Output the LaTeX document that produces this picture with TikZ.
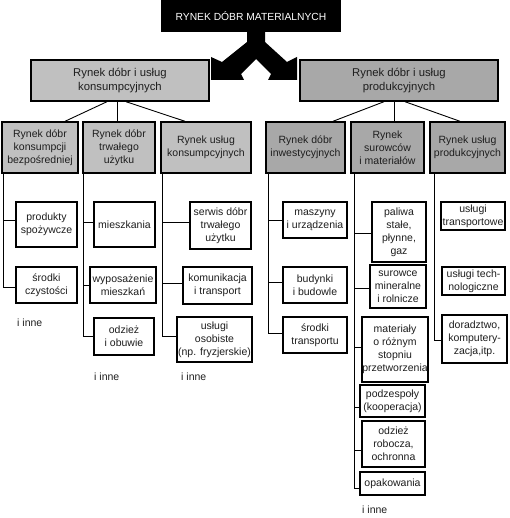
\documentclass[tikz,border=0pt]{standalone}
\usepackage{fontspec}
\setmainfont{Liberation Sans}
\newcommand\myfs{\fontsize{10.5}{13}\selectfont}
\newcommand\mylevfs{\fontsize{11.3}{14}\selectfont}
\newcommand\mytitlefs{\fontsize{10.3}{12}\selectfont}
\definecolor{lgr}{RGB}{192,192,192}
\definecolor{dgr}{RGB}{168,168,168}
\definecolor{txt}{RGB}{30,30,30}
\begin{document}
\begin{tikzpicture}[x=1pt,y=-1pt,
  bx/.style={draw=black,line width=1.4pt,inner sep=0pt,align=center,text=txt,font=\myfs,fill=white},
  lev1/.style={bx,font=\mylevfs},
  conn/.style={draw=black,line width=0.9pt},
  inne/.style={anchor=west,inner sep=0pt,text=txt,font=\myfs}]
\useasboundingbox (0,0) rectangle (509,518);
% title
\node[fill=black,text=white,font=\mytitlefs,minimum width=180pt,minimum height=32pt,inner sep=0pt] (top) at (251,16) {RYNEK DÓBR MATERIALNYCH};
% fork arrow
\fill[black] (247,31) -- (265,31) -- (265,42) -- (287,62) -- (297,57) -- (297,80) -- (268,80) -- (271,74) -- (256,59) -- (241,74) -- (244,80) -- (211,80) -- (211,57) -- (222,62) -- (247,42) -- cycle;
% level 1
\node[lev1,fill=lgr,minimum width=178pt,minimum height=41pt] (L1) at (120,80.5) {Rynek dóbr i usług\\konsumpcyjnych};
\node[lev1,fill=dgr,minimum width=198pt,minimum height=41pt] (R1) at (399,80.5) {Rynek dóbr i usług\\produkcyjnych};
% level 2
\node[bx,fill=lgr,minimum width=76pt,minimum height=51pt] (A) at (40,147.5) {Rynek dóbr\\konsumpcji\\bezpośredniej};
\node[bx,fill=lgr,minimum width=72pt,minimum height=51pt] (B) at (119,147.5) {Rynek dóbr\\trwałego\\użytku};
\node[bx,fill=lgr,minimum width=90pt,minimum height=51pt] (C) at (206,147.5) {Rynek usług\\konsumpcyjnych};
\node[bx,fill=dgr,minimum width=79pt,minimum height=51pt] (D) at (305.5,147.5) {Rynek dóbr\\inwestycyjnych};
\node[bx,fill=dgr,minimum width=73pt,minimum height=51pt] (E) at (387.5,147.5) {Rynek\\surowców\\i materiałów};
\node[bx,fill=dgr,minimum width=75pt,minimum height=51pt] (F) at (467.5,147.5) {Rynek usług\\produkcyjnych};
% level1 -> level2
\draw[conn] ([xshift=-13pt]L1.south) -- ([xshift=25pt]A.north);
\draw[conn] ([xshift=-3pt]L1.south) -- ([xshift=-2pt]B.north);
\draw[conn] ([xshift=6pt]L1.south) -- ([xshift=-21pt]C.north);
\draw[conn] ([xshift=-15pt]R1.south) -- ([xshift=27.5pt]D.north);
\draw[conn] ([xshift=-5pt]R1.south) -- ([xshift=6.5pt]E.north);
\draw[conn] ([xshift=6pt]R1.south) -- ([xshift=-7.5pt]F.north);
% level 3 boxes
\node[bx,minimum width=61pt,minimum height=45pt] (a1) at (46.5,224.5) {produkty\\spożywcze};
\node[bx,minimum width=61pt,minimum height=36pt] (a2) at (46.5,285) {środki\\czystości};
\node[bx,minimum width=61pt,minimum height=45pt] (b1) at (124.5,224.5) {mieszkania};
\node[bx,minimum width=66pt,minimum height=36pt] (b2) at (123,285) {wyposażenie\\mieszkań};
\node[bx,minimum width=60pt,minimum height=37pt] (b3) at (124,336.5) {odzież\\i obuwie};
\node[bx,minimum width=61pt,minimum height=47pt] (c1) at (220.5,225.5) {serwis dóbr\\trwałego\\użytku};
\node[bx,minimum width=69pt,minimum height=37pt] (c2) at (217.5,285.5) {komunikacja\\i transport};
\node[bx,minimum width=75pt,minimum height=45pt] (c3) at (214.5,339.5) {usługi\\osobiste\\(np. fryzjerskie)};
\node[bx,minimum width=64pt,minimum height=36pt] (d1) at (315,220) {maszyny\\i urządzenia};
\node[bx,minimum width=64pt,minimum height=36pt] (d2) at (315,285) {budynki\\i budowle};
\node[bx,minimum width=64pt,minimum height=36pt] (d3) at (315,335) {środki\\transportu};
\node[bx,minimum width=54pt,minimum height=60pt] (e1) at (399,232) {paliwa\\stałe,\\płynne,\\gaz};
\node[bx,minimum width=56pt,minimum height=43pt] (e2) at (398,286.5) {surowce\\mineralne\\i rolnicze};
\node[bx,minimum width=66pt,minimum height=65pt] (e3) at (395,349.5) {materiały\\o różnym\\stopniu\\przetworzenia};
\node[bx,minimum width=65pt,minimum height=32pt] (e4) at (392.5,401) {podzespoły\\(kooperacja)};
\node[bx,minimum width=63pt,minimum height=46pt] (e5) at (393.5,444) {odzież\\robocza,\\ochronna};
\node[bx,minimum width=65pt,minimum height=23pt] (e6) at (392.5,483.5) {opakowania};
\node[bx,minimum width=64pt,minimum height=28pt] (f1) at (473,216) {usługi\\transportowe};
\node[bx,minimum width=63pt,minimum height=28pt] (f2) at (473.5,281) {usługi tech-\\nologiczne};
\node[bx,minimum width=65pt,minimum height=48pt] (f3) at (474.5,339) {doradztwo,\\komputery-\\zacja,itp.};
% i inne
\node[inne] (ia) at (17,323) {i inne};
\node[inne] (ib) at (94,377) {i inne};
\node[inne] (ic) at (181,377) {i inne};
\node[inne] (ie) at (362,510) {i inne};
% trunks
\coordinate (At) at ([xshift=2pt]A.south west);
\coordinate (Bt) at ([xshift=1pt]B.south west);
\coordinate (Ct) at ([xshift=2pt]C.south west);
\coordinate (Dt) at ([xshift=3pt]D.south west);
\coordinate (Et) at ([xshift=4pt]E.south west);
\coordinate (Ft) at ([xshift=5pt]F.south west);
\draw[conn] (At) |- ([yshift=4.5pt]a1.west);
\draw[conn] (At) |- ([yshift=-2pt]a2.west);
\draw[conn] (Bt) |- ([yshift=2.5pt]b1.west);
\draw[conn] (Bt) |- (b2.west);
\draw[conn] (Bt) |- (b3.west);
\draw[conn] (Ct) |- ([yshift=3.5pt]c1.west);
\draw[conn] (Ct) |- ([yshift=2.5pt]c2.west);
\draw[conn] (Ct) |- ([yshift=3.5pt]c3.west);
\draw[conn] (Dt) |- (d1.west);
\draw[conn] (Dt) |- ([yshift=3pt]d2.west);
\draw[conn] (Dt) |- ([yshift=2pt]d3.west);
\draw[conn] (Et) |- ([yshift=-1pt]e1.west);
\draw[conn] (Et) |- ([yshift=-1.5pt]e2.west);
\draw[conn] (Et) |- ([yshift=2.5pt]e3.west);
\draw[conn] (Et) |- ([yshift=-6pt]e4.west);
\draw[conn] (Et) |- ([yshift=-6pt]e5.west);
\draw[conn] (Et) |- ([yshift=-4.5pt]e6.west);
\draw[conn] (Ft) |- ([yshift=-1pt]f3.west);
\end{tikzpicture}
\end{document}
